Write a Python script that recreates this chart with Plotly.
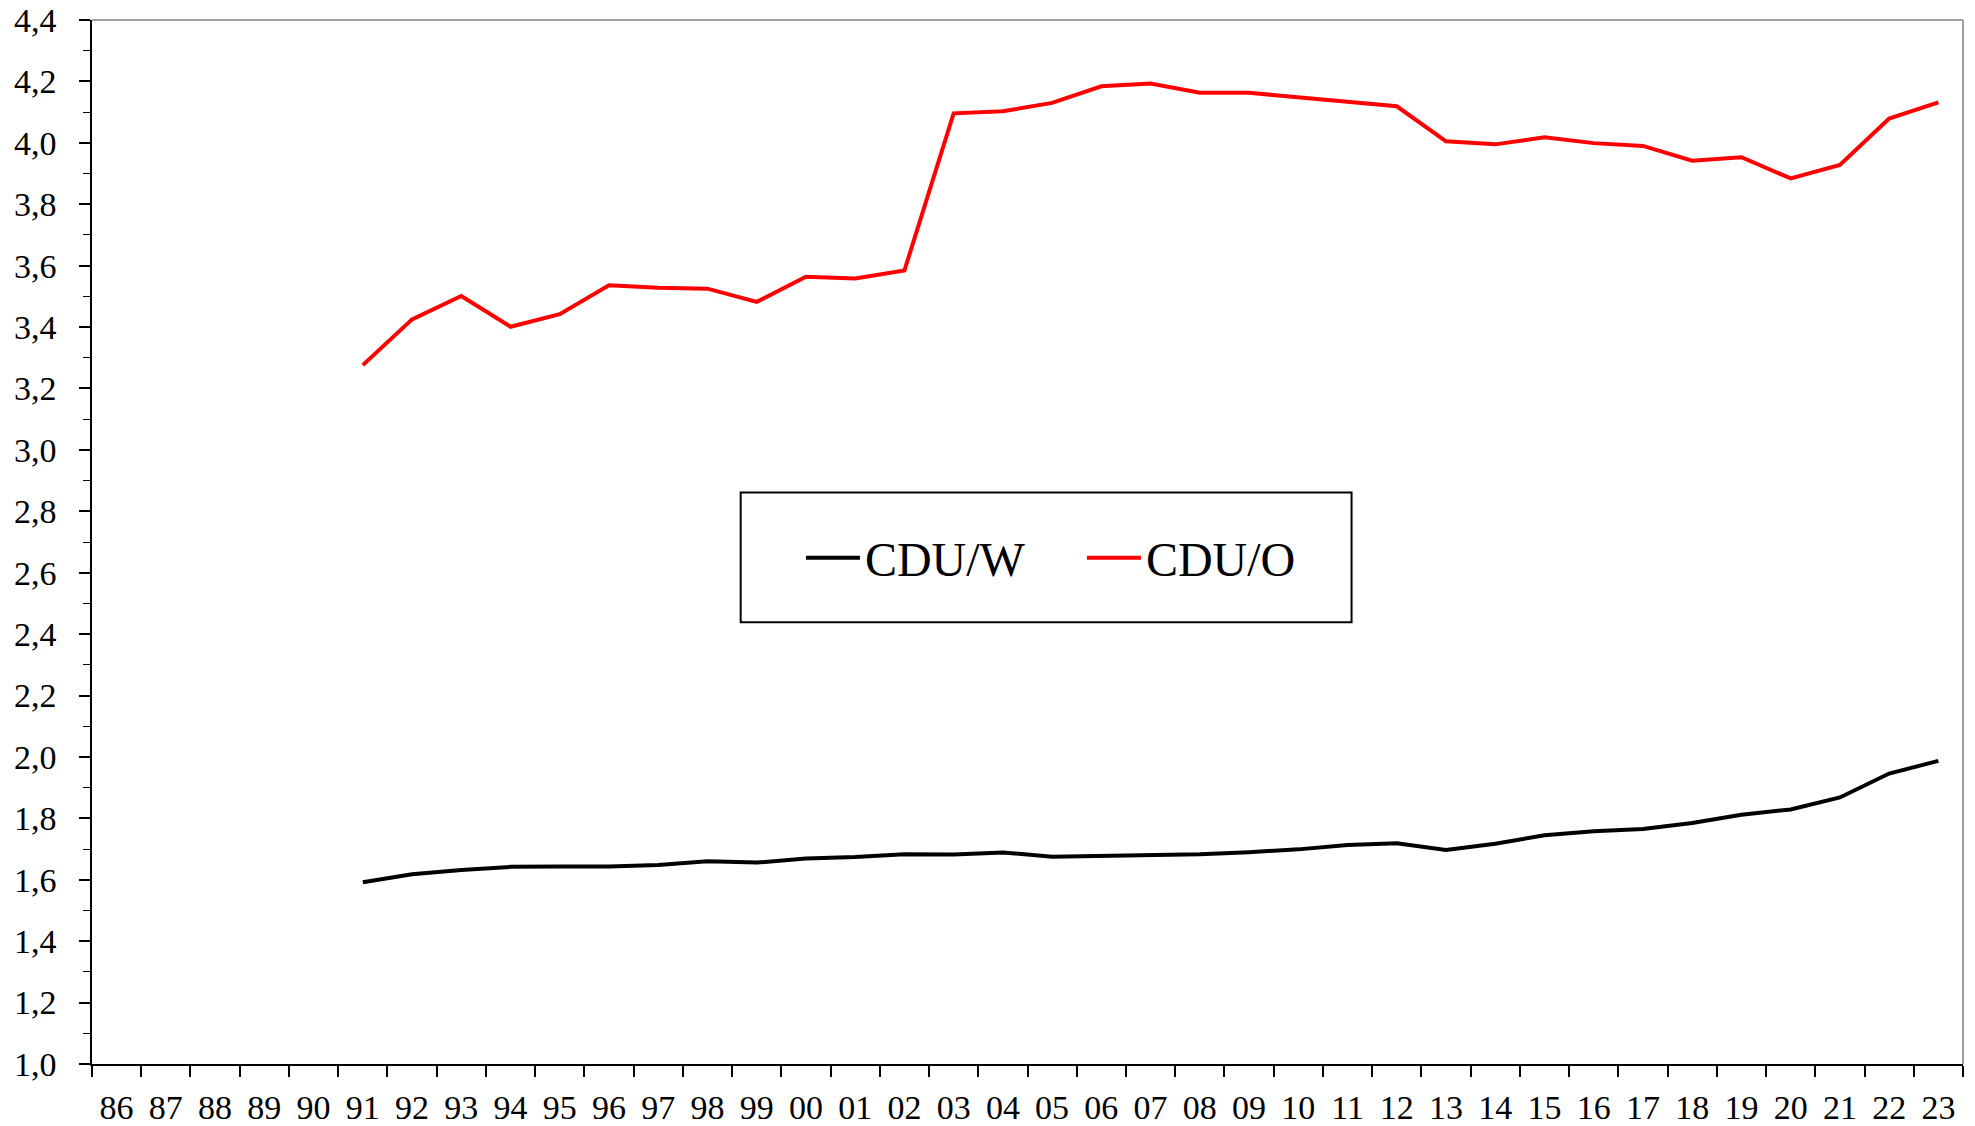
import plotly.graph_objects as go

years = ["86", "87", "88", "89", "90", "91", "92", "93", "94", "95", "96", "97", "98", "99",
         "00", "01", "02", "03", "04", "05", "06", "07", "08", "09", "10", "11", "12",
         "13", "14", "15", "16", "17", "18", "19", "20", "21", "22", "23"]

cdu_w = [None, None, None, None, None,
         1.592, 1.618, 1.632, 1.642, 1.643, 1.643, 1.648, 1.660, 1.656,
         1.669, 1.674, 1.683, 1.682, 1.689, 1.675, 1.677, 1.682, 1.683, 1.690,
         1.699, 1.713, 1.719, 1.697, 1.717, 1.745, 1.758, 1.765, 1.785, 1.812,
         1.829, 1.868, 1.946, 1.987]

cdu_o = [None, None, None, None, None,
         3.276, 3.425, 3.501, 3.401, 3.442, 3.536, 3.528, 3.525, 3.482,
         3.564, 3.558, 3.584, 4.096, 4.103, 4.130, 4.184, 4.193, 4.163, 4.163,
         4.149, 4.134, 4.119, 4.005, 3.995, 4.018, 3.999, 3.990, 3.942, 3.953,
         3.884, 3.928, 4.079, 4.132]

y_ticks = [1.0, 1.2, 1.4, 1.6, 1.8, 2.0, 2.2, 2.4, 2.6, 2.8, 3.0, 3.2, 3.4, 3.6, 3.8, 4.0, 4.2, 4.4]

FONT = "Liberation Serif, Times New Roman, serif"

fig = go.Figure()
fig.add_trace(go.Scatter(x=years, y=cdu_w, mode="lines", name="CDU/W",
                         line=dict(color="#000000", width=4)))
fig.add_trace(go.Scatter(x=years, y=cdu_o, mode="lines", name="CDU/O",
                         line=dict(color="#ff0000", width=4)))

W, H = 1975, 1126
ml, mr, mt, mb = 92, 12, 20, 62

fig.update_layout(
    width=W, height=H,
    margin=dict(l=ml, r=mr, t=mt, b=mb, pad=0),
    paper_bgcolor="white", plot_bgcolor="white",
    separators=",.",
    font=dict(family=FONT, size=34, color="black"),
    showlegend=True,
    legend=dict(orientation="h", x=0.3789, xanchor="left", y=0.4847, yanchor="middle",
                bgcolor="rgba(0,0,0,0)", borderwidth=0,
                font=dict(family=FONT, size=48, color="black"),
                itemwidth=54,
                entrywidth=212, entrywidthmode="pixels"),
    xaxis=dict(type="category", categoryorder="array", categoryarray=years,
               range=[-0.5, len(years) - 0.5],
               tickson="boundaries", ticks="outside", ticklen=11, tickwidth=1.5,
               tickcolor="black", showline=True, linecolor="black", linewidth=1.5,
               showgrid=False, zeroline=False, ticklabelstandoff=12, automargin=False,
               tickfont=dict(family=FONT, size=34, color="black")),
    yaxis=dict(range=[1.0, 4.4], tickvals=y_ticks, tickformat=".1f",
               ticks="outside", ticklen=11, tickwidth=1.5, tickcolor="black",
               showline=True, linecolor="black", linewidth=1.5,
               showgrid=False, zeroline=False, ticklabelstandoff=16, automargin=False,
               minor=dict(dtick=0.1, ticks="outside", ticklen=7, tickwidth=1, tickcolor="black",
                          showgrid=False),
               tickfont=dict(family=FONT, size=34, color="black")),
    shapes=[
        dict(type="line", xref="paper", yref="paper", x0=0, x1=1, y0=1, y1=1,
             line=dict(color="#808080", width=1.5)),
        dict(type="line", xref="paper", yref="paper", x0=1, x1=1, y0=0, y1=1,
             line=dict(color="#808080", width=1.5)),
        dict(type="rect", xref="paper", yref="paper", x0=0.3467, x1=0.6732, y0=0.4232, y1=0.5474,
             line=dict(color="black", width=2), fillcolor="rgba(0,0,0,0)"),
    ],
)

fig.write_html("out.html", config={"displayModeBar": False},
               post_script="document.body.style.margin='0px';document.body.style.overflow='hidden';")
